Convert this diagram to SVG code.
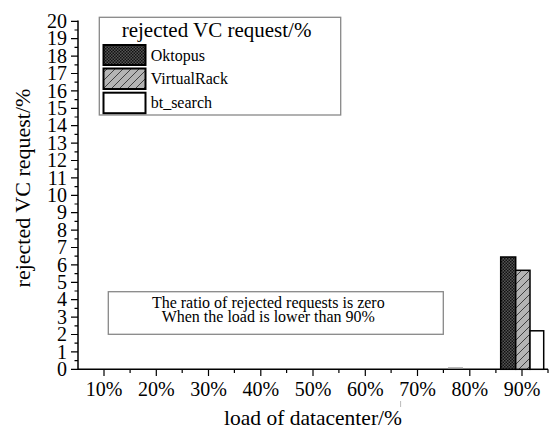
<svg xmlns="http://www.w3.org/2000/svg" width="551" height="430" viewBox="0 0 551 430">
<style>
text{font-family:"Liberation Serif","Times New Roman",serif;fill:#000}
.yl{font-size:20px;text-anchor:end}
.xl{font-size:20px;text-anchor:middle}
.ax{stroke:#000;stroke-width:1.5;fill:none}
.tk{stroke:#000;stroke-width:1.2}
.bar{stroke:#000;stroke-width:1.5}
.sw{stroke:#000;stroke-width:2}
.box{fill:#fff;stroke:#888;stroke-width:1.3}
</style>
<defs>
<pattern id="pOk" width="3" height="3" patternUnits="userSpaceOnUse">
<rect width="3" height="3" fill="#555"/>
<rect width="1.5" height="1.5" fill="#111"/>
<rect x="1.5" y="1.5" width="1.5" height="1.5" fill="#111"/>
</pattern>
<pattern id="pVR" width="8" height="8" patternUnits="userSpaceOnUse">
<rect width="8" height="8" fill="#b4b4b4"/>
<path d="M-1,9 L9,-1 M-1,1 L1,-1 M7,9 L9,7" stroke="#222" stroke-width="0.8"/>
</pattern>
</defs>
<rect width="551" height="430" fill="#fff"/>

<g id="axes">
<path class="ax" d="M78,20.5 V369.3 H548"/>
<g class="tk">
<path d="M71,369.3H78M71,351.9H78M71,334.5H78M71,317.1H78M71,299.7H78M71,282.3H78M71,264.9H78M71,247.5H78M71,230.1H78M71,212.7H78M71,195.3H78M71,177.9H78M71,160.5H78M71,143.1H78M71,125.7H78M71,108.3H78M71,90.9H78M71,73.5H78M71,56.1H78M71,38.7H78M71,21.3H78"/>
<path d="M74.5,360.6H78M74.5,343.2H78M74.5,325.8H78M74.5,308.4H78M74.5,291H78M74.5,273.6H78M74.5,256.2H78M74.5,238.8H78M74.5,221.4H78M74.5,204H78M74.5,186.6H78M74.5,169.2H78M74.5,151.8H78M74.5,134.4H78M74.5,117H78M74.5,99.6H78M74.5,82.2H78M74.5,64.8H78M74.5,47.4H78M74.5,30H78"/>
<path d="M104,369.3V376M156.3,369.3V376M208.5,369.3V376M260.8,369.3V376M313,369.3V376M365.3,369.3V376M417.5,369.3V376M469.8,369.3V376M522,369.3V376"/>
<path d="M130.1,369.3V373M182.2,369.3V373M234.4,369.3V373M286.6,369.3V373M338.9,369.3V373M391.1,369.3V373M443.4,369.3V373M495.9,369.3V373M548,369.3V373"/>
</g>
<g class="yl">
<text x="67" y="376">0</text><text x="67" y="358.6">1</text><text x="67" y="341.2">2</text><text x="67" y="323.8">3</text><text x="67" y="306.4">4</text><text x="67" y="289">5</text><text x="67" y="271.6">6</text><text x="67" y="254.2">7</text><text x="67" y="236.8">8</text><text x="67" y="219.4">9</text><text x="67" y="202">10</text><text x="67" y="184.6">11</text><text x="67" y="167.2">12</text><text x="67" y="149.8">13</text><text x="67" y="132.4">14</text><text x="67" y="115">15</text><text x="67" y="97.6">16</text><text x="67" y="80.2">17</text><text x="67" y="62.8">18</text><text x="67" y="45.4">19</text><text x="67" y="28">20</text>
</g>
<g class="xl">
<text x="104" y="396">10%</text><text x="156.3" y="396">20%</text><text x="208.5" y="396">30%</text><text x="260.8" y="396">40%</text><text x="313" y="396">50%</text><text x="365.3" y="396">60%</text><text x="417.5" y="396">70%</text><text x="469.8" y="396">80%</text><text x="522" y="396">90%</text>
</g>
<text x="313" y="425" font-size="21.5" text-anchor="middle">load of datacenter/%</text>
<text transform="translate(30,188) rotate(-90)" font-size="22" text-anchor="middle">rejected VC request/%</text>
<path d="M400.6,401V407" stroke="#bbb" stroke-width="1"/>
</g>

<g id="bars">
<path d="M448,367.8H463" stroke="#aaa" stroke-width="1.2"/>
<rect id="bar-oktopus" class="bar" x="500.7" y="257" width="15" height="112.3" fill="url(#pOk)"/>
<rect id="bar-virtualrack" class="bar" x="515.7" y="270.3" width="14.3" height="99" fill="url(#pVR)"/>
<rect id="bar-btsearch" class="bar" x="530" y="330.8" width="13.7" height="38.5" fill="#fff"/>
</g>

<g id="legend">
<rect class="box" x="99.3" y="17.3" width="241.4" height="97.7"/>
<text x="121.7" y="36.7" font-size="21">rejected VC request/%</text>
<rect class="sw" x="103.5" y="45" width="42" height="20" fill="url(#pOk)"/>
<text x="150.7" y="60.5" font-size="16">Oktopus</text>
<rect class="sw" x="103.5" y="68.5" width="42" height="20.5" fill="url(#pVR)"/>
<text x="150.7" y="83.5" font-size="16">VirtualRack</text>
<rect class="sw" x="103.5" y="92.7" width="42" height="20.5" fill="#fff"/>
<text x="150.7" y="107.5" font-size="16">bt_search</text>
</g>

<g id="note">
<rect class="box" x="108.3" y="291.7" width="335" height="42.6"/>
<text x="268.3" y="307.5" font-size="16" text-anchor="middle">The ratio of rejected requests is zero</text>
<text x="268.3" y="322" font-size="16" text-anchor="middle">When the load is lower than 90%</text>
</g>
</svg>
